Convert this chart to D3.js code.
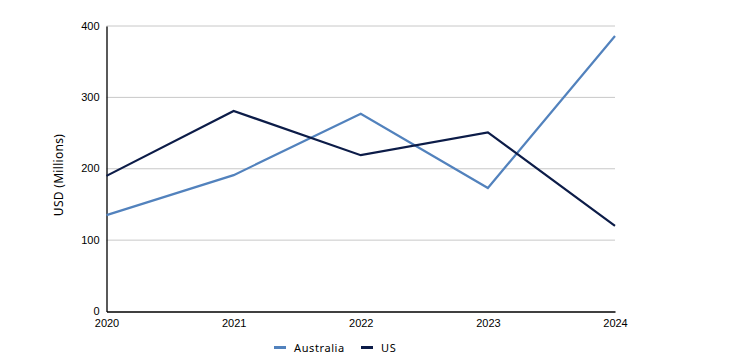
<!DOCTYPE html>
<html><head><meta charset="utf-8">
<script src="https://cdn.jsdelivr.net/npm/d3@7"></script>
<style>body{margin:0;background:#fff}svg{display:block;font-family:"Noto Sans","Open Sans",sans-serif}</style>
</head><body><svg id="c" width="737" height="362"></svg>
<script>
const years = ["2020","2021","2022","2023","2024"];
const australia = [135, 191, 277, 173, 386];
const us = [190, 281, 219, 251, 120];
const yTicks = [0, 100, 200, 300, 400];
const seriesNames = ["Australia", "US"];
const colors = ["#5282bd", "#0c1c48"];

const svg = d3.select("#c");
const m = {l:106.5, r:615, t:26, b:311.5};
const x = d3.scalePoint().domain(years).range([m.l, m.r]);
const y = d3.scaleLinear().domain([0,400]).range([m.b, m.t]);

// gridlines
svg.append("g").selectAll("line").data(yTicks.filter(d=>d>0)).join("line")
  .attr("x1", m.l).attr("x2", m.r).attr("y1", d=>y(d)).attr("y2", d=>y(d))
  .attr("stroke", "#c8c8c8").attr("stroke-width", 1);

// y axis
const ya = svg.append("g").attr("transform", `translate(${m.l},0)`)
  .call(d3.axisLeft(y).tickValues(yTicks).tickSize(0).tickPadding(7));
ya.select(".domain").attr("stroke", "#000").attr("stroke-width", 1.3);
ya.selectAll("text").attr("font-size", 11).attr("fill", "#000").attr("dy", "0.28em");

// x axis
const xa = svg.append("g").attr("transform", `translate(0,${m.b})`)
  .call(d3.axisBottom(x).tickSize(0).tickPadding(7));
xa.select(".domain").attr("stroke", "#000").attr("stroke-width", 1.3);
xa.selectAll("text").attr("font-size", 11).attr("fill", "#000").attr("dy", "0.8em");

// y title
svg.append("text").attr("transform", `translate(63,175) rotate(-90)`)
  .attr("text-anchor", "middle").attr("font-size", 12).attr("letter-spacing", 0.3)
  .attr("fill", "#000").text("USD (Millions)");

// lines
const line = d3.line().x((d,i)=>x(years[i])).y(d=>y(d));
[australia, us].forEach((s,i)=>{
  svg.append("path").attr("d", line(s)).attr("fill","none")
    .attr("stroke", colors[i]).attr("stroke-width", 2.2).attr("stroke-linejoin","miter");
});

// legend
const leg = [{n:seriesNames[0], x:274},{n:seriesNames[1], x:361}];
leg.forEach((d,i)=>{
  svg.append("rect").attr("x", d.x).attr("y", 346).attr("width", 12).attr("height", 3).attr("fill", colors[i]);
  svg.append("text").attr("x", d.x+20).attr("y", 351.5).attr("font-size", 11)
    .attr("letter-spacing", 0.6).attr("fill","#000").text(d.n);
});
</script></body></html>
